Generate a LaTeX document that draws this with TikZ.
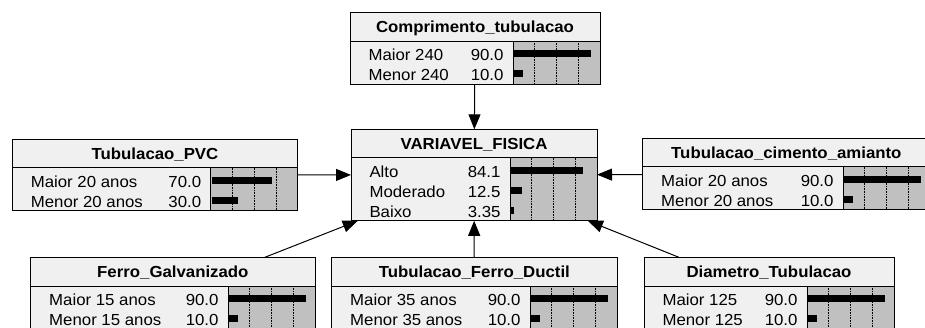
\documentclass[tikz,border=0pt]{standalone}
\usepackage{fontspec}
\setmainfont{Liberation Sans}[FakeStretch=1.05]
\usepackage{xcolor}
\usetikzlibrary{arrows.meta, calc}
\definecolor{nodegray}{RGB}{240,240,240}
\definecolor{bargray}{RGB}{192,192,192}

% one belief box: name, left, top, width, rows, title, states
\newcommand{\beliefbox}[7]{%
  \node[wholebox, minimum width=#4, minimum height={31.5+20*#5}] (#1) at (#2,#3) {};
  \node[titlebox, minimum width=#4] (#1-t) at (#2,#3) {\textbf{#6}};
  \node[bodybox, minimum width=#4, minimum height={3+20*#5}] (#1-b) at (#1-t.south west) {};
  \node[barbox, minimum height={3+20*#5}] (#1-g) at (#1-b.north east) {};
  \foreach \f in {0.25,0.5,0.75}
    \draw[gridline] ($(#1-g.north west)!\f!(#1-g.north east)$) -- ($(#1-g.south west)!\f!(#1-g.south east)$);
  \foreach \s/\v [count=\i] in {#7} {
    \path (#1-b.north west) ++(15,{19.5+20*(\i-1)}) node[anchor=base west] (#1-s\i) {\s};
    \path (#1-g.north west) ++(-6,{19.5+20*(\i-1)}) node[anchor=base east] (#1-v\i) {\v};
    \fill (#1-g.north west) ++(1,{9+20*(\i-1)}) rectangle ++({0.86*\v},7);
  }%
}

\begin{document}
\begin{tikzpicture}[
    x=1pt, y=-1pt,
    font=\fontsize{16pt}{18pt}\selectfont,
    wholebox/.style={rectangle, inner sep=0pt, outer sep=0pt, anchor=north west},
    titlebox/.style={rectangle, draw, fill=nodegray, line width=0.8pt, inner sep=0pt, outer sep=0pt,
        anchor=north west, minimum height=28.5pt, text height=11.5pt, text depth=0pt},
    bodybox/.style={rectangle, draw, fill=nodegray, line width=0.8pt, inner sep=0pt, outer sep=0pt, anchor=north west},
    barbox/.style={rectangle, draw, fill=bargray, line width=0.8pt, inner sep=0pt, outer sep=0pt,
        anchor=north east, minimum width=87pt},
    gridline/.style={densely dotted, line width=0.6pt},
    arrow/.style={-{Triangle[length=15pt,width=12pt]}, line width=1pt}
]
\path[use as bounding box, clip] (0,0) rectangle (925,327);

\beliefbox{ct}{350}{12.7}{250}{2}{Comprimento\_tubulacao}{Maior 240/90.0, Menor 240/10.0}
\beliefbox{vf}{351}{129.3}{246}{3}{VARIAVEL\_FISICA}{Alto/84.1, Moderado/12.5, Baixo/3.35}
\beliefbox{pvc}{12.3}{139}{285.4}{2}{Tubulacao\_PVC}{Maior 20 anos/70.0, Menor 20 anos/30.0}
\beliefbox{tca}{642.7}{138.3}{287.3}{2}{Tubulacao\_cimento\_amianto}{Maior 20 anos/90.0, Menor 20 anos/10.0}
\beliefbox{galv}{30.7}{257.7}{284.3}{2}{Ferro\_Galvanizado}{Maior 15 anos/90.0, Menor 15 anos/10.0}
\beliefbox{fd}{331.7}{257.7}{285.3}{2}{Tubulacao\_Ferro\_Ductil}{Maior 35 anos/90.0, Menor 35 anos/10.0}
\beliefbox{diam}{644}{257.7}{250}{2}{Diametro\_Tubulacao}{Maior 125/90.0, Menor 125/10.0}

\draw[arrow] (ct) -- (vf);
\draw[arrow] (pvc) -- (vf);
\draw[arrow] (tca) -- (vf);
\draw[arrow] (galv) -- (vf);
\draw[arrow] (fd) -- (vf);
\draw[arrow] (diam) -- (vf);
\end{tikzpicture}
\end{document}
